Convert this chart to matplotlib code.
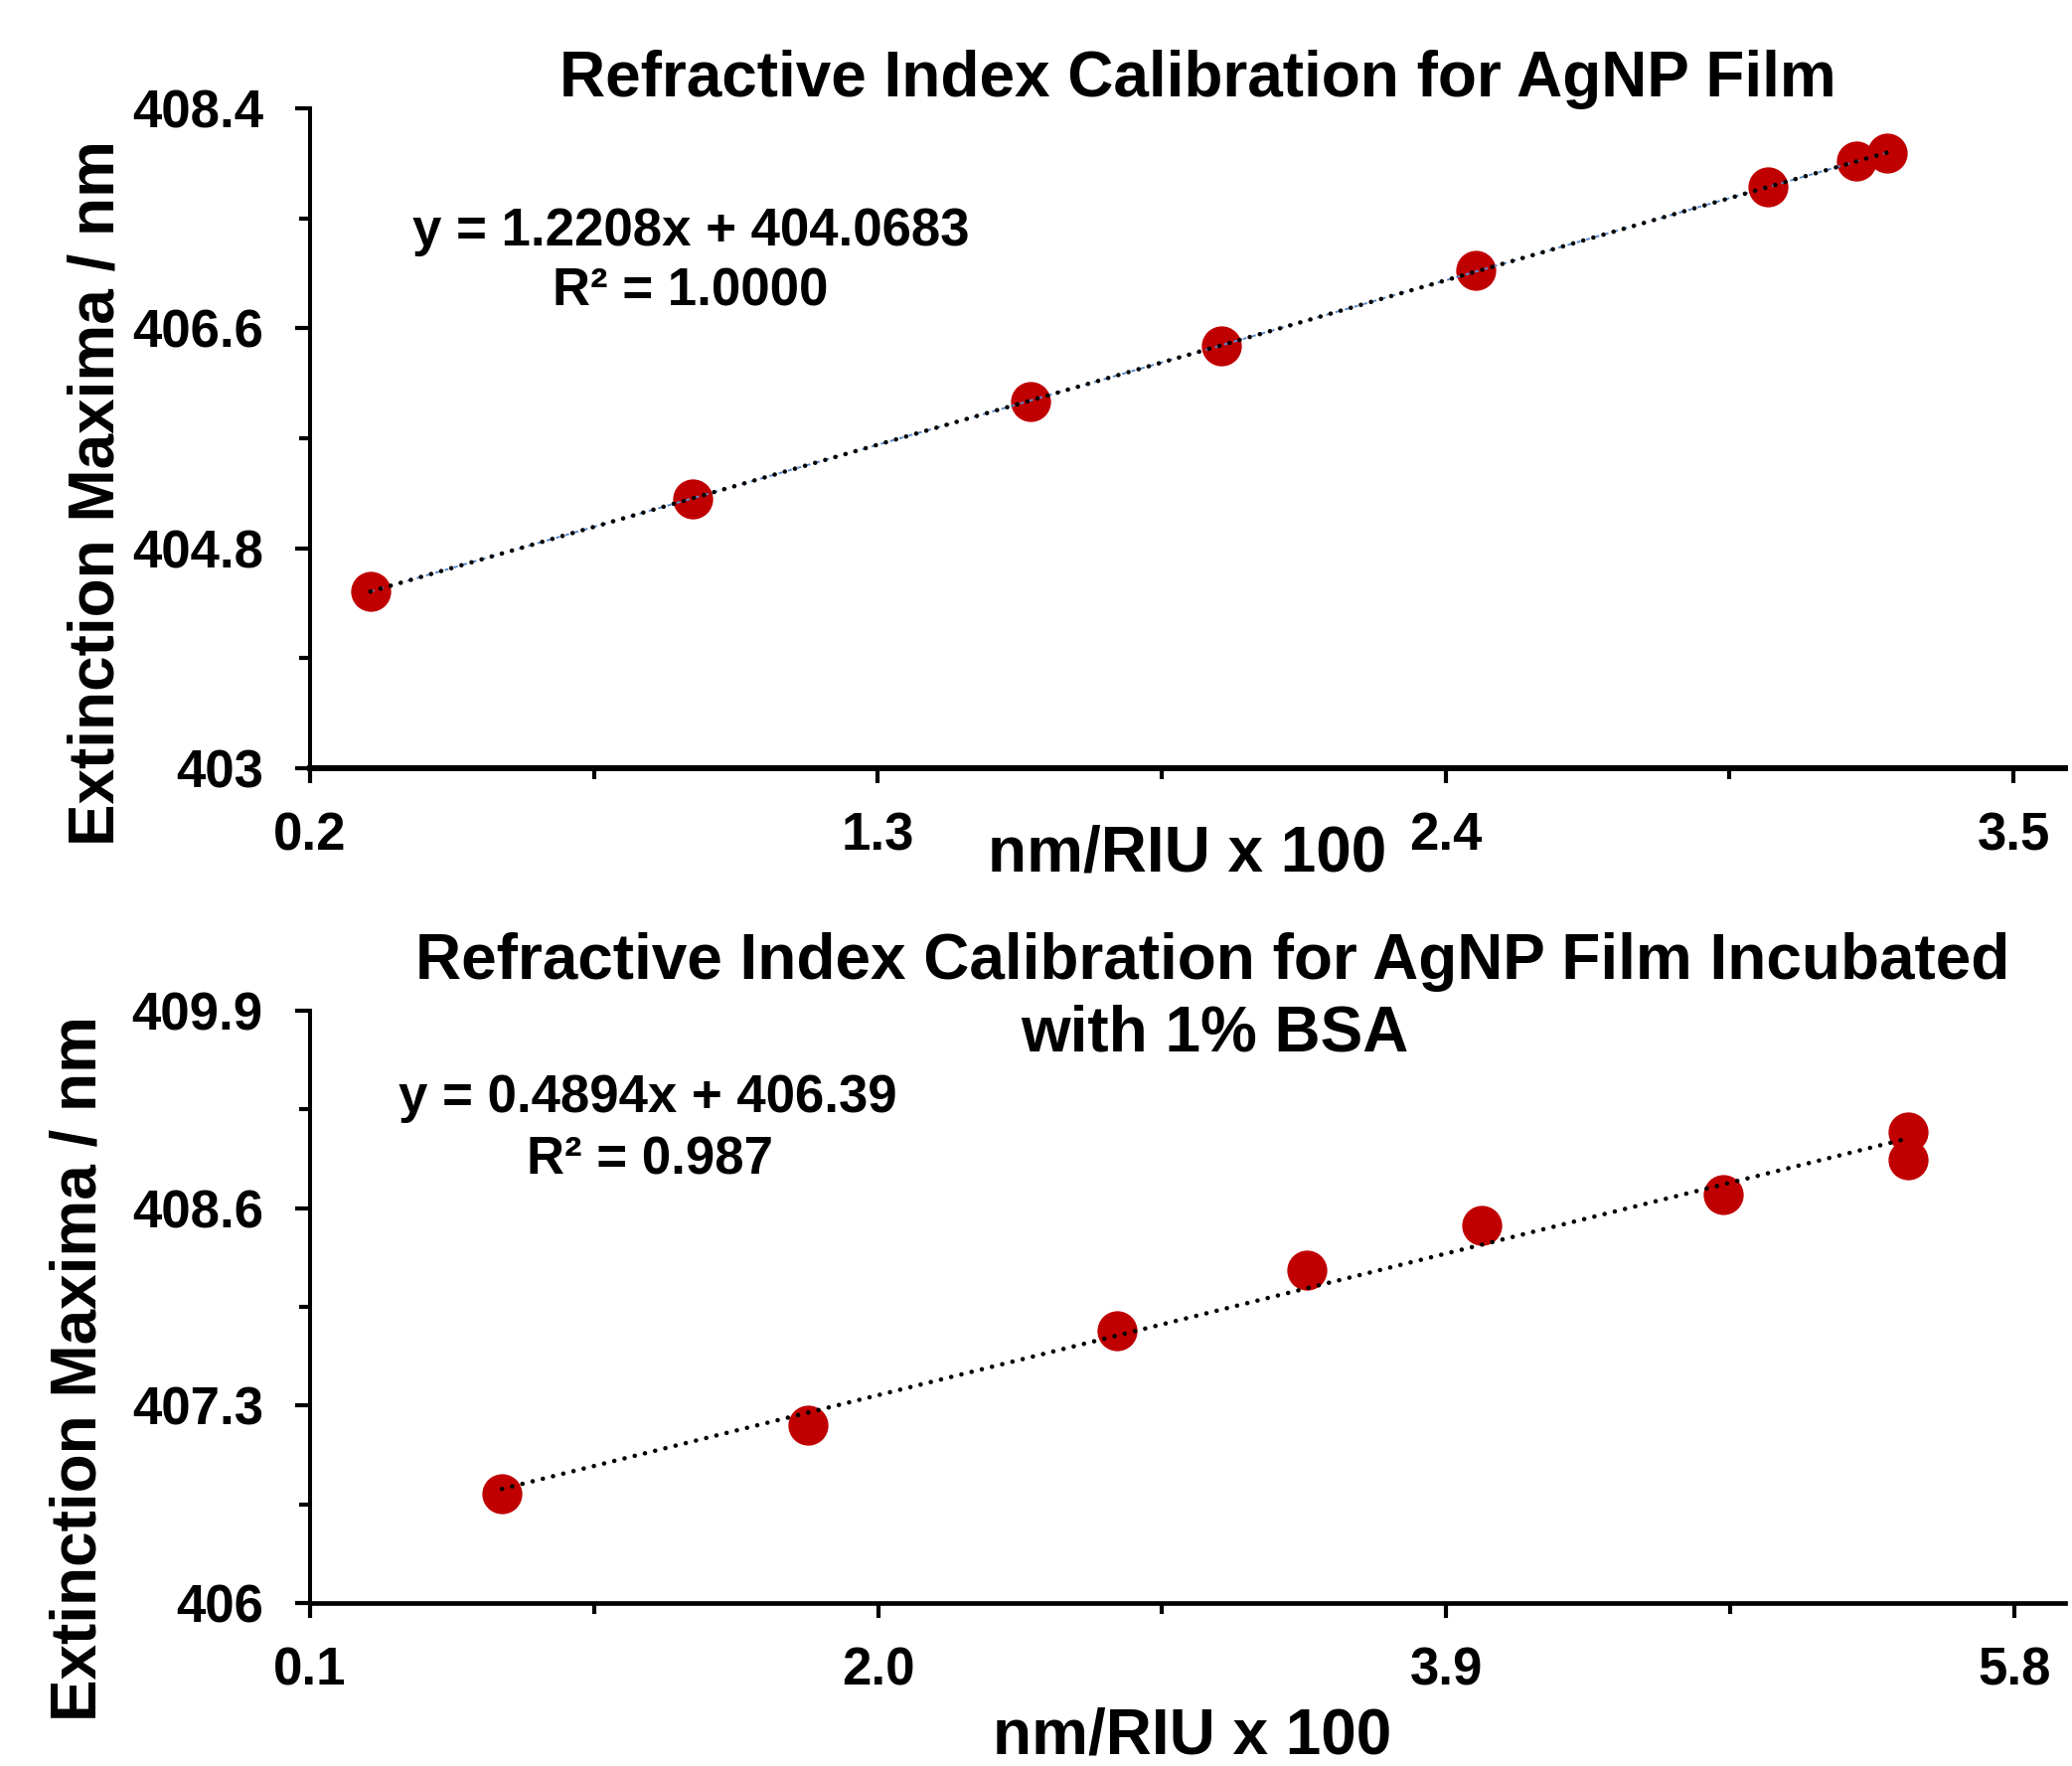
import numpy as np
import matplotlib
matplotlib.use("Agg")
import matplotlib.pyplot as plt
from matplotlib.ticker import FixedLocator, AutoMinorLocator

# data
film_x = [0.317, 0.942, 1.595, 1.965, 2.459, 3.025, 3.196, 3.255]
film_y = [404.450, 405.206, 406.003, 406.460, 407.071, 407.756, 407.970, 408.033]
film_eq = "y = 1.2208x + 404.0683"
film_r2 = "R² = 1.0000"

bsa_x = [0.742, 1.765, 2.800, 3.435, 4.018, 4.827, 5.446, 5.446]
bsa_y = [406.717, 407.170, 407.793, 408.193, 408.488, 408.689, 409.103, 408.921]
bsa_eq = "y = 0.4894x + 406.39"
bsa_r2 = "R² = 0.987"

film_xticks = [0.2, 1.3, 2.4, 3.5]
film_yticks = [403, 404.8, 406.6, 408.4]
bsa_xticks = [0.1, 2.0, 3.9, 5.8]
bsa_yticks = [406, 407.3, 408.6, 409.9]

W, H = 2085, 1777
plt.rcParams['font.family'] = ['Liberation Sans', 'DejaVu Sans']
plt.rcParams['font.weight'] = 'bold'

fig = plt.figure(figsize=(W / 100, H / 100), dpi=100)


def px(x, y):
    """pixel position in the picture -> figure fraction"""
    return x / W, 1 - y / H


def panel(rect, xs, ys, xticks, yticks, xlim, xspine_lw, trend_blue):
    ax = fig.add_axes(rect)
    ax.plot(xs, ys, 'o', ms=29, color='#C00000', mec='none', clip_on=False, zorder=3)

    # linear trendline across the data range
    k, b = np.polyfit(xs, ys, 1)
    xl = np.array([min(xs), max(xs)])
    if trend_blue:
        ax.plot(xl, k * xl + b, color='#5B8BD0', lw=1.4, ls=(0, (2, 3)), zorder=4)
    ax.plot(xl, k * xl + b, color='black', lw=3.3, ls=(0, (0.01, 2.3)),
            dash_capstyle='round', zorder=5)

    ax.set_xlim(xlim)
    ax.set_ylim(yticks[0], yticks[-1])
    ax.xaxis.set_major_locator(FixedLocator(xticks))
    ax.yaxis.set_major_locator(FixedLocator(yticks))
    ax.set_xticklabels(["%.1f" % t for t in xticks])
    ax.set_yticklabels(["%g" % t for t in yticks])
    ax.xaxis.set_minor_locator(AutoMinorLocator(2))
    ax.yaxis.set_minor_locator(AutoMinorLocator(2))

    for s in ['top', 'right']:
        ax.spines[s].set_visible(False)
    ax.spines['left'].set_linewidth(2.9)
    ax.spines['bottom'].set_linewidth(xspine_lw)
    ax.tick_params(which='major', direction='out', length=11, width=3, labelsize=38)
    ax.tick_params(which='minor', direction='out', length=8, width=3)
    ax.tick_params(axis='y', which='major', pad=23)
    ax.tick_params(axis='x', which='major', pad=20)
    for lab in ax.get_xticklabels() + ax.get_yticklabels():
        lab.set_fontweight('bold')
    return ax


# top panel
l, b1 = px(312, 773)
r, t1 = px(2078, 109)
ax1 = panel([l, b1, r - l, t1 - b1], film_x, film_y, film_xticks, film_yticks,
            (0.2, 3.6), 4.3, True)

# bottom panel
_, b2 = px(312, 1613)
_, t2 = px(2078, 1017)
ax2 = panel([l, b2, r - l, t2 - b2], bsa_x, bsa_y, bsa_xticks, bsa_yticks,
            (0.1, 5.97), 3.4, False)

big = dict(fontsize=46, fontweight='bold', ha='center', va='baseline')
eq = dict(fontsize=38, fontweight='bold', ha='center', va='baseline')

fig.text(*px(1205, 97), "Refractive Index Calibration for AgNP Film", **big)
fig.text(*px(1220, 985), "Refractive Index Calibration for AgNP Film Incubated", **big)
fig.text(*px(1222, 1058), "with 1% BSA", **big)

fig.text(*px(1195, 877), "nm/RIU x 100", **big)
fig.text(*px(1200, 1764), "nm/RIU x 100", **big)

fig.text(*px(115, 851), "Extinction Maxima / nm", fontsize=46, fontweight='bold',
         rotation=90, rotation_mode='anchor', ha='left', va='baseline')
fig.text(*px(97, 1732), "Extinction Maxima / nm", fontsize=46, fontweight='bold',
         rotation=90, rotation_mode='anchor', ha='left', va='baseline')

fig.text(*px(695, 247), film_eq, **eq)
fig.text(*px(695, 308), film_r2, **eq)
fig.text(*px(652, 1119), bsa_eq, **eq)
fig.text(*px(654, 1181), bsa_r2, **eq)

fig.savefig("out.png", dpi=100)
